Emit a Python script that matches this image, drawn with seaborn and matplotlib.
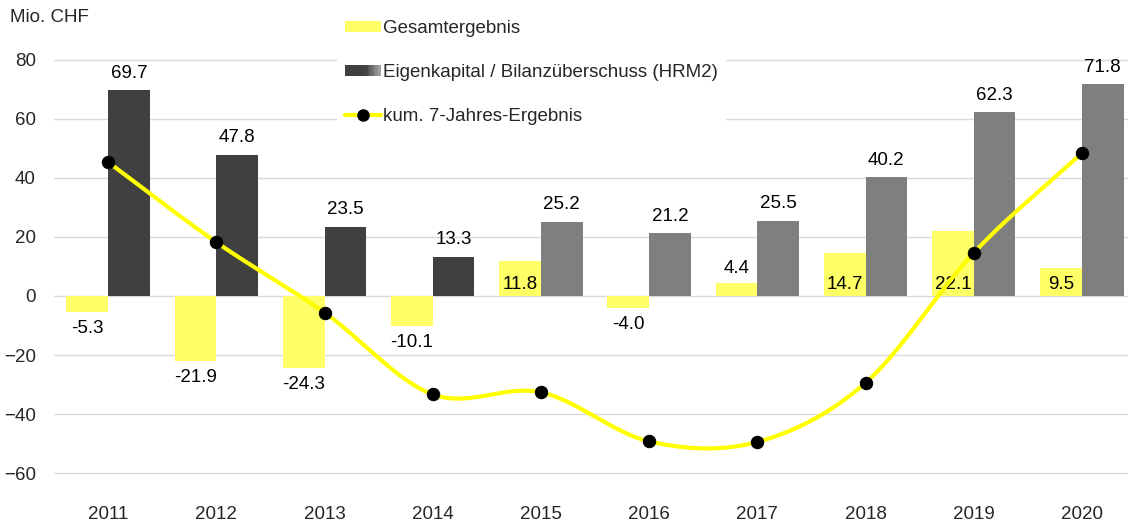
import numpy as np
import pandas as pd
import matplotlib
matplotlib.use("Agg")
import matplotlib.pyplot as plt
import seaborn as sns
from matplotlib.patches import Patch, Rectangle
from matplotlib.lines import Line2D
from matplotlib.legend_handler import HandlerBase

# data
years = ["2011", "2012", "2013", "2014", "2015", "2016", "2017", "2018", "2019", "2020"]
gesamt = [-5.3, -21.9, -24.3, -10.1, 11.8, -4.0, 4.4, 14.7, 22.1, 9.5]
eigen = [69.7, 47.8, 23.5, 13.3, 25.2, 21.2, 25.5, 40.2, 62.3, 71.8]
kum7 = [45.3, 18.2, -5.6, -33.3, -32.6, -49.2, -49.4, -29.4, 14.6, 48.4]
eigen_colors = ["#404040"] * 4 + ["#7f7f7f"] * 6

lab_g = "Gesamtergebnis"
lab_e = "Eigenkapital / Bilanzüberschuss (HRM2)"
lab_k = "kum. 7-Jahres-Ergebnis"

sns.set_theme(style="white")
plt.rcParams["font.family"] = ["Liberation Sans", "DejaVu Sans"]

df = pd.DataFrame({
    "Jahr": years * 2,
    "Serie": [lab_g] * len(years) + [lab_e] * len(years),
    "Wert": gesamt + eigen,
})

fig = plt.figure(figsize=(11.28, 5.22), dpi=100)
ax = fig.add_axes([54 / 1128, 1 - 491 / 522, 1 - 54 / 1128, (491 - 36) / 522])

sns.barplot(data=df, x="Jahr", y="Wert", hue="Serie", palette=["#ffff66", "#404040"],
            width=0.77, saturation=1, errorbar=None, legend=False, linewidth=0, ax=ax)
for bar, c in zip(ax.containers[1], eigen_colors):
    bar.set_facecolor(c)

# value labels
fs = 13.5
for bar, v in zip(ax.containers[1], eigen):
    cx = bar.get_x() + bar.get_width() / 2
    ax.annotate(f"{v:.1f}", (cx, v), xytext=(0, 6), textcoords="offset points",
                ha="center", va="bottom", fontsize=fs, color="black")
for bar, v in zip(ax.containers[0], gesamt):
    cx = bar.get_x() + bar.get_width() / 2
    if v < 0:
        ax.annotate(f"{v:.1f}", (cx, v), xytext=(0, -6), textcoords="offset points",
                    ha="center", va="top", fontsize=fs, color="black")
    elif v > 8:
        ax.annotate(f"{v:.1f}", (cx, 0), xytext=(0, 2), textcoords="offset points",
                    ha="center", va="bottom", fontsize=fs, color="black")
    else:
        ax.annotate(f"{v:.1f}", (cx, v), xytext=(0, 4), textcoords="offset points",
                    ha="center", va="bottom", fontsize=fs, color="black")

# smoothed line through the cumulative values (Catmull-Rom rendering)
xs = np.arange(len(years), dtype=float)
ys = np.array(kum7)
px = np.concatenate([[2 * xs[0] - xs[1]], xs, [2 * xs[-1] - xs[-2]]])
py = np.concatenate([[2 * ys[0] - ys[1]], ys, [2 * ys[-1] - ys[-2]]])
t = np.linspace(0, 1, 25)
cx_all, cy_all = [], []
for i in range(1, len(px) - 2):
    for arr, out in ((px, cx_all), (py, cy_all)):
        p0, p1, p2, p3 = arr[i - 1], arr[i], arr[i + 1], arr[i + 2]
        out.extend(0.5 * (2 * p1 + (-p0 + p2) * t + (2 * p0 - 5 * p1 + 4 * p2 - p3) * t ** 2
                          + (-p0 + 3 * p1 - 3 * p2 + p3) * t ** 3))
ax.plot(cx_all, cy_all, color="#ffff00", lw=3, zorder=3, solid_capstyle="round")
sns.scatterplot(x=xs, y=ys, color="black", s=80, edgecolor=None, zorder=4, ax=ax)

# axes styling
ax.set_ylim(-66, 88)
ax.set_xlim(-0.5, 9.426)
ax.set_yticks(range(-60, 81, 20))
ax.grid(axis="y", color="#d9d9d9", lw=1)
ax.set_axisbelow(True)
for s in ax.spines.values():
    s.set_visible(False)
ax.set_xlabel("")
ax.set_ylabel("")
ax.tick_params(axis="y", length=0, labelsize=fs, pad=13)
ax.tick_params(axis="x", length=0, labelsize=fs, pad=11)
fig.text(10 / 1128, 1 - 18 / 522, "Mio. CHF", fontsize=fs, va="center", ha="left")


class GradientHandler(HandlerBase):
    def create_artists(self, legend, orig_handle, xdescent, ydescent, width, height, fontsize, trans):
        n = 14
        w = width / n
        arts = []
        for i in range(n):
            g = 0.25 if i < n * 0.55 else 0.25 + 0.45 * (i - n * 0.55) / (n * 0.45)
            arts.append(Rectangle((-xdescent + i * w, -ydescent), w * 1.05, height,
                                  facecolor=(g, g, g), edgecolor="none", transform=trans))
        return arts


grad = Patch(facecolor="#404040")
handles = [Patch(facecolor="#ffff66", edgecolor="none"), grad,
           Line2D([], [], color="#ffff00", lw=3, marker="o", mfc="black", mec="black", ms=8)]
leg = ax.legend(handles, [lab_g, lab_e, lab_k], handler_map={grad: GradientHandler()},
                loc="upper left", bbox_to_anchor=(328 / 1128, 1 - 3 / 522),
                bbox_transform=fig.transFigure, frameon=True, facecolor="white",
                edgecolor="none", framealpha=1, fancybox=False, fontsize=fs,
                handlelength=1.9, handleheight=0.55, handletextpad=0.15,
                labelspacing=1.45, borderpad=0.4)

fig.savefig("out.png", dpi=100)
